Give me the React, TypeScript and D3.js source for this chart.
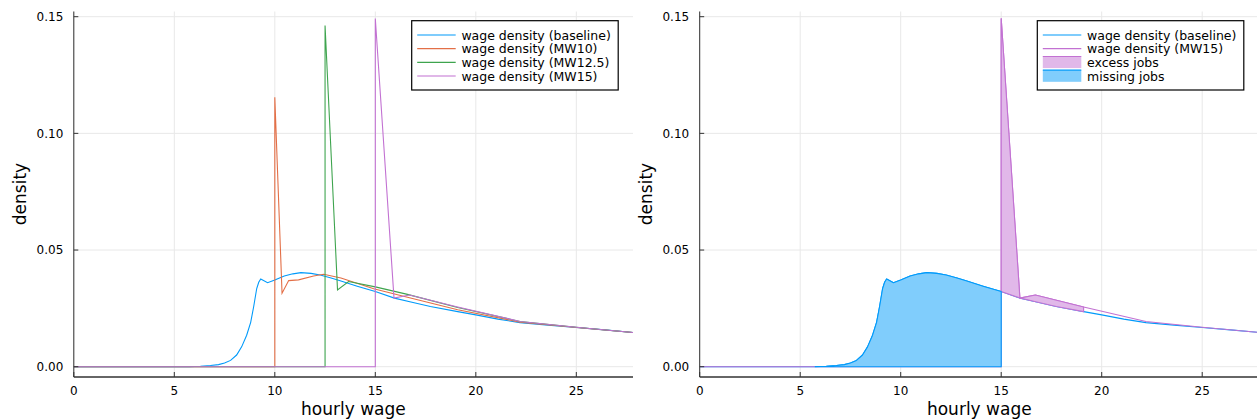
import React from "react";
import * as d3 from "d3";

// ---------- data ----------
const xTicks = [0, 5, 10, 15, 20, 25];
const yTicks = [0, 0.05, 0.1, 0.15];
const X_MAX = 27.82;

const baselineX = [0, 5.0, 5.75, 6.3, 6.8, 7.2, 7.5, 7.8, 8.1, 8.35, 8.6, 8.8, 8.95, 9.1, 9.2, 9.3, 9.64, 10.0, 10.47, 10.9, 11.3, 11.8, 12.26, 12.8, 13.29, 14.1, 15.0, 15.95, 16.77, 17.74, 19.1, 20.0, 21.1, 22.2, 23.6, 25.0, 26.4, 27.9];
const baselineY = [0, 0, 0.00005, 0.0002, 0.0005, 0.0009, 0.0016, 0.0027, 0.005, 0.0085, 0.0135, 0.019, 0.0258, 0.0335, 0.0362, 0.0376, 0.036, 0.0372, 0.0389, 0.0398, 0.0403, 0.04, 0.0393, 0.038, 0.0367, 0.0345, 0.0322, 0.0294, 0.0277, 0.0258, 0.0236, 0.0222, 0.0204, 0.0189, 0.0178, 0.0168, 0.0158, 0.0146];

const mw10X = [0, 10, 10, 10.36, 10.69, 11.18, 11.93, 12.43, 13.29, 14.92, 16.6, 19.1, 22.2, 25.0, 27.9];
const mw10Y = [0, 0, 0.1155, 0.0315, 0.0369, 0.0372, 0.0389, 0.0396, 0.038, 0.0334, 0.0298, 0.0244, 0.0191, 0.0168, 0.0146];

const mw125X = [0, 12.5, 12.5, 13.12, 13.67, 15.0, 16.6, 19.1, 22.2, 25.0, 27.9];
const mw125Y = [0, 0, 0.1462, 0.0329, 0.0365, 0.0342, 0.031, 0.0254, 0.0194, 0.0169, 0.0146];

const mw15X = [0, 15, 15, 15.93, 16.7, 19.1, 22.2, 25.0, 27.9];
const mw15Y = [0, 0, 0.1492, 0.0294, 0.0307, 0.0256, 0.0194, 0.0169, 0.0146];

const EXCESS_START = 15;
const EXCESS_END = 19.1;
const MISSING_START = 5.75;
const MISSING_END = 15;

const leftLegend = ["wage density (baseline)", "wage density (MW10)", "wage density (MW12.5)", "wage density (MW15)"];
const rightLegend = ["wage density (baseline)", "wage density (MW15)", "excess jobs", "missing jobs"];

// ---------- style ----------
const C_BLUE = "#009AFA";
const C_ORANGE = "#E36F47";
const C_GREEN = "#3EA44E";
const C_PURPLE = "#C271D2";
const F_BLUE = "#80CDFC";
const F_PURPLE = "#E1B8E9";
const FONT = "DejaVu Sans";

type Pt = [number, number];
const zip = (xs: number[], ys: number[]): Pt[] => xs.map((x, i) => [x, ys[i]]);

const Panel: React.FC<{ x0: number; x1: number; kind: "left" | "right" }> = ({ x0, x1, kind }) => {
  const xs = d3.scaleLinear().domain([0, X_MAX]).range([x0, x1]);
  const ys = d3.scaleLinear().domain([0, 0.15]).range([366.7, 16.7]);
  const yTop = 11.5;
  const yBot = 377;
  const line = d3.line<Pt>().x((d) => xs(d[0])).y((d) => ys(d[1]));
  const base = zip(baselineX, baselineY);
  const m10 = zip(mw10X, mw10Y);
  const m125 = zip(mw125X, mw125Y);
  const m15 = zip(mw15X, mw15Y);
  const clipId = `clip-${kind}`;

  // fills
  const excessTop = m15.filter((d, i) => d[0] >= EXCESS_START && d[0] <= EXCESS_END && !(d[0] === EXCESS_START && d[1] === 0));
  const excessBot = base.filter((d) => d[0] >= EXCESS_START && d[0] <= EXCESS_END).reverse();
  const excessPoly = [...excessTop, ...excessBot];
  const missTop = base.filter((d) => d[0] >= MISSING_START && d[0] <= MISSING_END);
  const missPoly: Pt[] = [...missTop, [MISSING_END, 0], [MISSING_START, 0]];

  const legendX = kind === "left" ? 411.7 : 1037.3;
  const legendY = 20.7;
  const legendW = 206.5;
  const legendH = 69.3;
  const rowY = [35, 48.6, 62.3, 76];
  const labels = kind === "left" ? leftLegend : rightLegend;
  const colors = kind === "left" ? [C_BLUE, C_ORANGE, C_GREEN, C_PURPLE] : [C_BLUE, C_PURPLE, C_PURPLE, C_BLUE];

  return (
    <g>
      <defs>
        <clipPath id={clipId}>
          <rect x={x0} y={yTop} width={x1 - x0} height={yBot - yTop} />
        </clipPath>
      </defs>
      {/* grid */}
      {xTicks.map((t) => (
        <line key={"gx" + t} x1={xs(t)} x2={xs(t)} y1={yTop} y2={yBot} stroke="#e8e8e8" strokeWidth={1} />
      ))}
      {yTicks.map((t) => (
        <line key={"gy" + t} x1={x0} x2={x1} y1={ys(t)} y2={ys(t)} stroke="#e8e8e8" strokeWidth={1} />
      ))}
      <g clipPath={`url(#${clipId})`}>
        {kind === "left" ? (
          <>
            <path d={line(base) || ""} fill="none" stroke={C_BLUE} strokeWidth={1.1} />
            <path d={line(m10) || ""} fill="none" stroke={C_ORANGE} strokeWidth={1.1} />
            <path d={line(m125) || ""} fill="none" stroke={C_GREEN} strokeWidth={1.1} />
            <path d={line(m15) || ""} fill="none" stroke={C_PURPLE} strokeWidth={1.1} />
          </>
        ) : (
          <>
            <path d={line(base) || ""} fill="none" stroke={C_BLUE} strokeWidth={1.1} />
            <path d={line(m15) || ""} fill="none" stroke={C_PURPLE} strokeWidth={1.1} />
            <path d={(line(excessPoly) || "") + "Z"} fill={F_PURPLE} stroke={C_PURPLE} strokeWidth={1.1} strokeLinejoin="round" />
            <path d={(line(missPoly) || "") + "Z"} fill={F_BLUE} stroke={C_BLUE} strokeWidth={1.1} strokeLinejoin="round" />
          </>
        )}
      </g>
      {/* axes */}
      <line x1={x0} x2={x1} y1={yBot} y2={yBot} stroke="#666" strokeWidth={1.8} />
      <line x1={x0} x2={x0} y1={yTop} y2={yBot} stroke="#333" strokeWidth={1} />
      {xTicks.map((t) => (
        <g key={"xt" + t}>
          <line x1={xs(t)} x2={xs(t)} y1={yBot} y2={yBot - 5} stroke="#333" strokeWidth={1} />
          <text x={xs(t)} y={395} textAnchor="middle" fontFamily={FONT} fontSize={12} fill="#000">
            {t}
          </text>
        </g>
      ))}
      {yTicks.map((t) => (
        <g key={"yt" + t}>
          <line x1={x0} x2={x0 + 4.5} y1={ys(t)} y2={ys(t)} stroke="#333" strokeWidth={1} />
          <text x={x0 - 10.5} y={ys(t)} dy="0.36em" textAnchor="end" fontFamily={FONT} fontSize={12} fill="#000">
            {d3.format(".2f")(t)}
          </text>
        </g>
      ))}
      <text x={(x0 + (x0 + 559.2)) / 2} y={415} textAnchor="middle" fontFamily={FONT} fontSize={17} fill="#000">
        hourly wage
      </text>
      <text transform={`translate(${x0 - 53.8},${194}) rotate(-90)`} dy="0.35em" textAnchor="middle" fontFamily={FONT} fontSize={17} fill="#000">
        density
      </text>
      {/* legend */}
      <rect x={legendX} y={legendY} width={legendW} height={legendH} fill="#fff" stroke="#000" strokeWidth={1.2} />
      {labels.map((lab, i) => {
        const isFill = kind === "right" && i >= 2;
        return (
          <g key={lab}>
            {isFill ? (
              <>
                <rect x={legendX + 5.5} y={rowY[i] - 5.8} width={38.5} height={11.6} fill={i === 2 ? F_PURPLE : F_BLUE} />
                <line x1={legendX + 5.5} x2={legendX + 44} y1={rowY[i] - 5.8} y2={rowY[i] - 5.8} stroke={colors[i]} strokeWidth={1.2} />
              </>
            ) : (
              <line x1={legendX + 5.5} x2={legendX + 44} y1={rowY[i]} y2={rowY[i]} stroke={colors[i]} strokeWidth={1.2} />
            )}
            <text x={legendX + 49.7} y={rowY[i]} dy="0.36em" fontFamily={FONT} fontSize={12.5} fill="#000">
              {lab}
            </text>
          </g>
        );
      })}
    </g>
  );
};

export default function App() {
  return (
    <svg width={1257} height={419} style={{ display: "block", position: "absolute", left: 0, top: 0 }}>
      <rect width={1257} height={419} fill="#fff" />
      <Panel x0={73.8} x1={633} kind="left" />
      <Panel x0={699.7} x1={1258.9} kind="right" />
    </svg>
  );
}
